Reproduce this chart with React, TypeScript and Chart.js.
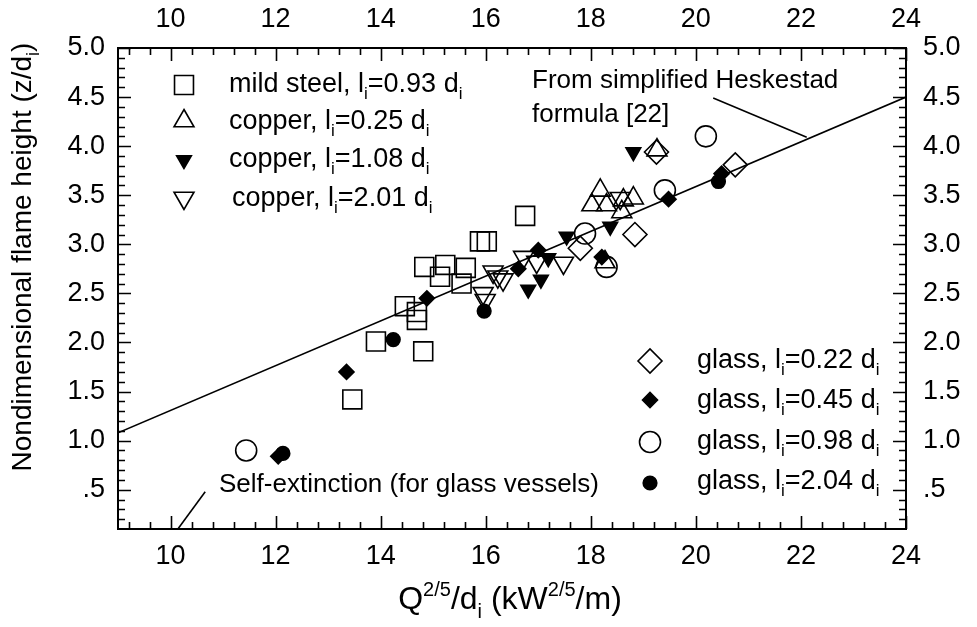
import React, { useEffect, useRef } from 'react';
import { Chart, registerables } from 'chart.js';

Chart.register(...registerables);

// ---------------- DATA ----------------
const mildSteelX = [16.75, 15.89, 16.02, 14.83, 15.23, 15.13, 15.62, 15.54, 14.46, 14.69, 14.69, 13.91, 14.81, 13.46];
const mildSteelY = [3.29, 3.03, 3.03, 2.77, 2.79, 2.67, 2.76, 2.6, 2.37, 2.31, 2.23, 2.01, 1.91, 1.42];

const copper025X = [18.18, 18.02, 18.3, 18.62, 18.81, 18.59, 19.26, 18.27];
const copper025Y = [3.55, 3.4, 3.4, 3.45, 3.47, 3.33, 3.96, 2.82];

const copper108X = [18.81, 17.54, 17.19, 16.81, 17.05, 18.37];
const copper108Y = [3.94, 3.08, 2.86, 2.54, 2.64, 3.18];

const copper201X = [16.14, 15.95, 15.99, 16.23, 16.33, 16.72, 16.97, 17.48, 18.56];
const copper201Y = [2.72, 2.5, 2.43, 2.67, 2.64, 2.87, 2.82, 2.81, 3.47];

const glass022X = [17.8, 18.84, 19.25, 20.75];
const glass022Y = [2.96, 3.1, 3.94, 3.81];

const glass045X = [12.05, 13.35, 14.88, 16.62, 17.0, 18.21, 19.48, 20.49];
const glass045Y = [0.84, 1.7, 2.45, 2.75, 2.94, 2.87, 3.46, 3.72];

const glass098X = [11.44, 17.89, 18.3, 19.41, 20.19];
const glass098Y = [0.9, 3.11, 2.77, 3.55, 4.1];

const glass204X = [12.14, 14.24, 15.97, 20.43];
const glass204Y = [0.87, 2.03, 2.32, 3.64];

// Heskestad correlation line and annotation leader lines (data coordinates)
const heskestadX = [9, 24];
const heskestadY = [1.08, 4.5];
const heskestadLeaderX = [20.33, 22.11];
const heskestadLeaderY = [4.49, 4.09];
const selfExtLeaderX = [10.14, 10.66];
const selfExtLeaderY = [0.1, 0.48];

// Axis ranges
const xMin = 9;
const xMax = 24;
const yMin = 0.1;
const yMax = 5.0;

// Legend labels (text before subscript i, text after)
const legendTopLabels = [
  ['mild steel, l', '=0.93 d'],
  ['copper, l', '=0.25 d'],
  ['copper, l', '=1.08 d'],
  ['copper, l', '=2.01 d'],
];
const legendBottomLabels = [
  ['glass, l', '=0.22 d'],
  ['glass, l', '=0.45 d'],
  ['glass, l', '=0.98 d'],
  ['glass, l', '=2.04 d'],
];

const FONT = '"Liberation Sans", Arial, Helvetica, sans-serif';

type Seg = { t: string; sub?: boolean; sup?: boolean };

function segSize(s: Seg, size: number) {
  return s.sub || s.sup ? Math.round(size * 0.64) : size;
}

function richWidth(ctx: CanvasRenderingContext2D, segs: Seg[], size: number) {
  let w = 0;
  for (const s of segs) {
    ctx.font = `${segSize(s, size)}px ${FONT}`;
    w += ctx.measureText(s.t).width;
  }
  return w;
}

function drawRich(ctx: CanvasRenderingContext2D, segs: Seg[], x: number, y: number, size: number, align: 'left' | 'center') {
  const w = richWidth(ctx, segs, size);
  let cx = align === 'center' ? x - w / 2 : x;
  ctx.textAlign = 'left';
  ctx.textBaseline = 'alphabetic';
  ctx.fillStyle = '#000';
  for (const s of segs) {
    ctx.font = `${segSize(s, size)}px ${FONT}`;
    const dy = s.sub ? size * 0.27 : s.sup ? -size * 0.4 : 0;
    ctx.fillText(s.t, cx, y + dy);
    cx += ctx.measureText(s.t).width;
  }
}

function drawMarker(ctx: CanvasRenderingContext2D, style: string, x: number, y: number, r: number, filled: boolean, rot = 0) {
  ctx.save();
  ctx.beginPath();
  if (style === 'rect') {
    const s = r * Math.SQRT1_2;
    ctx.rect(x - s, y - s, 2 * s, 2 * s);
  } else if (style === 'rectRot') {
    ctx.moveTo(x - r, y);
    ctx.lineTo(x, y - r);
    ctx.lineTo(x + r, y);
    ctx.lineTo(x, y + r);
    ctx.closePath();
  } else if (style === 'circle') {
    ctx.arc(x, y, r, 0, Math.PI * 2);
  } else if (style === 'triangle') {
    let a = (rot * Math.PI) / 180;
    for (let i = 0; i < 3; i++) {
      const px = x + Math.sin(a) * r;
      const py = y - Math.cos(a) * r;
      if (i === 0) ctx.moveTo(px, py);
      else ctx.lineTo(px, py);
      a += (2 * Math.PI) / 3;
    }
    ctx.closePath();
  }
  if (filled) {
    ctx.fillStyle = '#000';
    ctx.fill();
  }
  ctx.lineWidth = 1.6;
  ctx.strokeStyle = '#000';
  ctx.stroke();
  ctx.restore();
}

const pts = (xs: number[], ys: number[]) => xs.map((x, i) => ({ x, y: ys[i] }));

const markerSpecs = {
  mild: { style: 'rect', r: 13.4, filled: false, rot: 0 },
  c025: { style: 'triangle', r: 11.5, filled: false, rot: 0 },
  c108: { style: 'triangle', r: 8.5, filled: true, rot: 180 },
  c201: { style: 'triangle', r: 11.5, filled: false, rot: 180 },
  g022: { style: 'rectRot', r: 12, filled: false, rot: 0 },
  g045: { style: 'rectRot', r: 7.5, filled: true, rot: 0 },
  g098: { style: 'circle', r: 10.5, filled: false, rot: 0 },
  g204: { style: 'circle', r: 6.8, filled: true, rot: 0 },
};

function markerDataset(label: string, xs: number[], ys: number[], spec: any) {
  return {
    label,
    data: pts(xs, ys),
    showLine: false,
    pointStyle: spec.style,
    pointRadius: spec.r,
    pointRotation: spec.rot,
    borderColor: '#000',
    backgroundColor: spec.filled ? '#000' : 'rgba(0,0,0,0)',
    borderWidth: 1.6,
    pointHoverRadius: spec.r,
  };
}

function lineDataset(label: string, xs: number[], ys: number[]) {
  return {
    label,
    data: pts(xs, ys),
    showLine: true,
    pointRadius: 0,
    borderColor: '#000',
    borderWidth: 1.6,
    backgroundColor: '#000',
    fill: false,
  };
}

const decorPlugin = {
  id: 'decor',
  afterDraw(chart: any) {
    const ctx: CanvasRenderingContext2D = chart.ctx;
    const { left, right, top, bottom } = chart.chartArea;
    const xs = chart.scales.x;
    const ys = chart.scales.y;
    ctx.save();

    // frame
    ctx.strokeStyle = '#000';
    ctx.lineWidth = 2;
    ctx.strokeRect(left, top, right - left, bottom - top);

    // inward ticks
    ctx.lineWidth = 1.6;
    ctx.beginPath();
    for (let k = 0; k <= 75; k++) {
      const v = xMin + k * 0.2;
      if (v > xMax + 1e-6) break;
      const isMajor = Math.abs(v / 2 - Math.round(v / 2)) < 1e-6;
      const isMinor = Math.abs((v - 10) / 0.4 - Math.round((v - 10) / 0.4)) < 1e-6;
      if (!isMajor && !isMinor) continue;
      const len = isMajor ? 13 : 7;
      const px = Math.round(xs.getPixelForValue(v)) + 0.5;
      ctx.moveTo(px, bottom);
      ctx.lineTo(px, bottom - len);
      ctx.moveTo(px, top);
      ctx.lineTo(px, top + len);
    }
    for (let k = 1; k <= 50; k++) {
      const v = k * 0.1;
      if (v < yMin + 1e-6 || v > yMax + 1e-6) continue;
      const isMajor = Math.abs(v / 0.5 - Math.round(v / 0.5)) < 1e-6;
      const len = isMajor ? 13 : 7;
      const py = Math.round(ys.getPixelForValue(v)) + 0.5;
      ctx.moveTo(left, py);
      ctx.lineTo(left + len, py);
      ctx.moveTo(right, py);
      ctx.lineTo(right - len, py);
    }
    ctx.stroke();

    // legend: top-left
    const topSpecs = [markerSpecs.mild, markerSpecs.c025, markerSpecs.c108, markerSpecs.c201];
    const topMarkerY = [85, 121, 160, 198];
    const topBase = [92, 129, 167, 206];
    const topTextX = [229, 229, 229, 232];
    topSpecs.forEach((s, i) => {
      drawMarker(ctx, s.style, 184, topMarkerY[i], s.r, s.filled, s.rot);
      const [a, b] = legendTopLabels[i];
      drawRich(ctx, [{ t: a }, { t: 'i', sub: true }, { t: b }, { t: 'i', sub: true }], topTextX[i], topBase[i], 27, 'left');
    });

    // legend: bottom-right
    const botSpecs = [markerSpecs.g022, markerSpecs.g045, markerSpecs.g098, markerSpecs.g204];
    const botMarkerY = [361, 400, 442, 483];
    const botBase = [368, 408, 449, 489];
    botSpecs.forEach((s, i) => {
      drawMarker(ctx, s.style, 650, botMarkerY[i], s.r, s.filled, s.rot);
      const [a, b] = legendBottomLabels[i];
      drawRich(ctx, [{ t: a }, { t: 'i', sub: true }, { t: b }, { t: 'i', sub: true }], 697, botBase[i], 27, 'left');
    });

    // annotations
    drawRich(ctx, [{ t: 'From simplified Heskestad' }], 532, 88, 26, 'left');
    drawRich(ctx, [{ t: 'formula [22]' }], 532, 122, 26, 'left');
    drawRich(ctx, [{ t: 'Self-extinction (for glass vessels)' }], 219, 492, 26, 'left');

    // axis titles
    drawRich(
      ctx,
      [{ t: 'Q' }, { t: '2/5', sup: true }, { t: '/d' }, { t: 'i', sub: true }, { t: ' (kW' }, { t: '2/5', sup: true }, { t: '/m)' }],
      510,
      609,
      32,
      'center'
    );
    ctx.save();
    ctx.translate(31, 257);
    ctx.rotate(-Math.PI / 2);
    drawRich(ctx, [{ t: 'Nondimensional flame height (z/d' }, { t: 'i', sub: true }, { t: ')' }], 0, 0, 28, 'center');
    ctx.restore();

    ctx.restore();
  },
};

const tickFont = { family: FONT, size: 27 };

export default function App() {
  const ref = useRef<HTMLCanvasElement>(null);
  useEffect(() => {
    if (!ref.current) return;
    const chart = new Chart(ref.current, {
      type: 'scatter',
      data: {
        datasets: [
          lineDataset('Heskestad', heskestadX, heskestadY),
          lineDataset('leader1', heskestadLeaderX, heskestadLeaderY),
          lineDataset('leader2', selfExtLeaderX, selfExtLeaderY),
          markerDataset('mild steel, li=0.93 di', mildSteelX, mildSteelY, markerSpecs.mild),
          markerDataset('copper, li=0.25 di', copper025X, copper025Y, markerSpecs.c025),
          markerDataset('copper, li=1.08 di', copper108X, copper108Y, markerSpecs.c108),
          markerDataset('copper, li=2.01 di', copper201X, copper201Y, markerSpecs.c201),
          markerDataset('glass, li=0.22 di', glass022X, glass022Y, markerSpecs.g022),
          markerDataset('glass, li=0.45 di', glass045X, glass045Y, markerSpecs.g045),
          markerDataset('glass, li=0.98 di', glass098X, glass098Y, markerSpecs.g098),
          markerDataset('glass, li=2.04 di', glass204X, glass204Y, markerSpecs.g204),
        ] as any,
      },
      options: {
        responsive: false,
        animation: false,
        devicePixelRatio: 1,
        layout: { padding: 0 },
        plugins: { legend: { display: false }, tooltip: { enabled: false } },
        events: [],
        scales: {
          x: {
            type: 'linear',
            position: 'bottom',
            min: xMin,
            max: xMax,
            grid: { display: false, drawTicks: false },
            border: { display: false },
            ticks: {
              stepSize: 2,
              padding: 11,
              color: '#000',
              font: tickFont,
              maxRotation: 0,
              autoSkip: false,
              callback: (v: any) => (Math.abs(v % 2) < 1e-9 ? String(v) : null),
            },
            afterFit: (s: any) => {
              s.height = 98;
            },
          },
          xTop: {
            type: 'linear',
            position: 'top',
            min: xMin,
            max: xMax,
            grid: { display: false, drawTicks: false },
            border: { display: false },
            ticks: {
              stepSize: 2,
              padding: 12,
              color: '#000',
              font: tickFont,
              maxRotation: 0,
              autoSkip: false,
              callback: (v: any) => (Math.abs(v % 2) < 1e-9 ? String(v) : null),
            },
            afterFit: (s: any) => {
              s.height = 48;
            },
          },
          y: {
            type: 'linear',
            position: 'left',
            min: yMin,
            max: yMax,
            grid: { display: false, drawTicks: false },
            border: { display: false },
            ticks: {
              stepSize: 0.5,
              padding: 13,
              color: '#000',
              font: tickFont,
              autoSkip: false,
              callback: (v: any) => (v < 0.3 ? null : Math.abs(v - 0.5) < 1e-6 ? '.5' : Number(v).toFixed(1)),
            },
            afterFit: (s: any) => {
              s.width = 118;
            },
          },
          yRight: {
            type: 'linear',
            position: 'right',
            min: yMin,
            max: yMax,
            grid: { display: false, drawTicks: false },
            border: { display: false },
            ticks: {
              stepSize: 0.5,
              padding: 17,
              color: '#000',
              font: tickFont,
              autoSkip: false,
              callback: (v: any) => (v < 0.3 ? null : Math.abs(v - 0.5) < 1e-6 ? '.5' : Number(v).toFixed(1)),
            },
            afterFit: (s: any) => {
              s.width = 71;
            },
          },
        },
      } as any,
      plugins: [decorPlugin],
    });
    return () => chart.destroy();
  }, []);

  return (
    <div style={{ position: 'absolute', left: 0, top: 0, width: 977, height: 627, background: '#fff' }}>
      <canvas ref={ref} width={977} height={627} style={{ display: 'block' }} />
    </div>
  );
}
